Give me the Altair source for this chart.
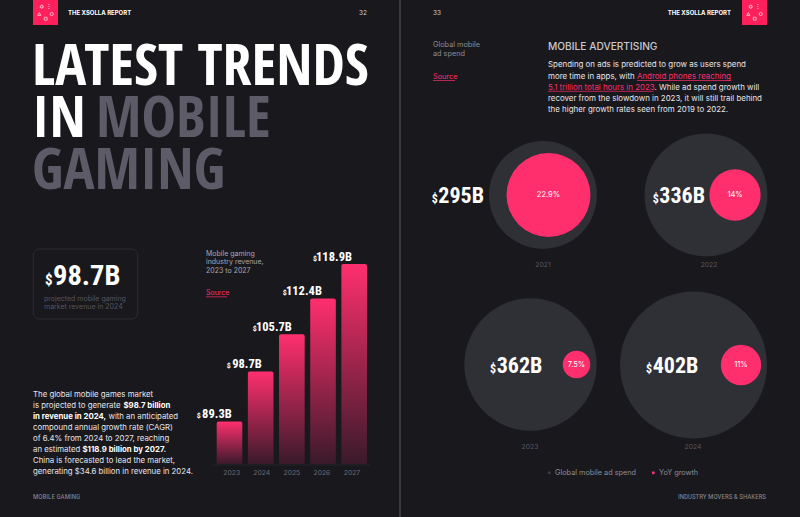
import altair as alt
import pandas as pd

# ---------------- data ----------------
bar_years = ["2023", "2024", "2025", "2026", "2027"]
revenue = [89.3, 98.7, 105.7, 112.4, 118.9]

ad_years = ["2021", "2022", "2023", "2024"]
ad_spend = [295, 336, 362, 402]
yoy_growth = [22.9, 14, 7.5, 11]

# ---------------- layout (pixels) ----------------
outer_cx = [543, 706, 530.5, 693.5]
outer_cy = [195, 195, 364.5, 365]
pink_cx = [548.5, 735, 576.5, 741]
label_x = [438.3, 659.3, 496.7, 652.7]
label_y = [203.3, 203.3, 373.3, 372.7]
year_x = [543, 709, 530, 693]
year_y = [265, 265, 447, 447]

BG = "#19181d"
PINK = "#ff2e6d"
DISC = "#2f2f36"
GREY_T = "#5c5b67"
BODY = "Inter"
COND = "Open Sans Condensed"
NUM = "Roboto Condensed"
BAR_BASE = 81.3  # value at the bar baseline of the designer's scale


def txt(texts, xs, ys, size, color, font=BODY, weight="normal", align="left", baseline="middle"):
    df = pd.DataFrame({"t": texts, "x": xs, "y": ys})
    return alt.Chart(df).mark_text(
        font=font, fontSize=size, fontWeight=weight, color=color, align=align, baseline=baseline
    ).encode(x=alt.X("x:Q", scale=None), y=alt.Y("y:Q", scale=None), text="t:N")


def rect(x, x2, y, y2, color, **kw):
    df = pd.DataFrame({"x": [x], "x2": [x2], "y": [y], "y2": [y2]})
    return alt.Chart(df).mark_rect(color=color, **kw).encode(
        x=alt.X("x:Q", scale=None), x2="x2:Q", y=alt.Y("y:Q", scale=None), y2="y2:Q"
    )


def hline(x, x2, y, color, w=0.8):
    df = pd.DataFrame({"x": [x], "x2": [x2], "y": [y]})
    return alt.Chart(df).mark_rule(color=color, strokeWidth=w).encode(
        x=alt.X("x:Q", scale=None), x2="x2:Q", y=alt.Y("y:Q", scale=None)
    )


layers = []

# page divider
layers.append(alt.Chart(pd.DataFrame({"x": [400]})).mark_rule(color="#47464d", strokeWidth=1.5).encode(
    x=alt.X("x:Q", scale=None), y=alt.value(0), y2=alt.value(517)))

# logos
def logo(x0):
    out = [rect(x0, x0 + 25, 0, 25, "#ff1f5a")]
    pts = pd.DataFrame({
        "x": [x0 + 8.7, x0 + 6.3, x0 + 18.7],
        "y": [6.7, 14, 14],
        "s": ["cross", "triangle-up", "circle"],
    })
    out.append(alt.Chart(pts).mark_point(filled=False, color="white", strokeWidth=0.9, size=10).encode(
        x=alt.X("x:Q", scale=None), y=alt.Y("y:Q", scale=None),
        shape=alt.Shape("s:N", scale=None)))
    out.append(alt.Chart(pd.DataFrame({"x": [x0 + 16.3], "y": [6.7]})).mark_text(
        text="⁝", color="white", fontSize=7, font=BODY).encode(
        x=alt.X("x:Q", scale=None), y=alt.Y("y:Q", scale=None)))
    out.append(alt.Chart(pd.DataFrame({"x": [x0 + 12.7], "y": [18.7]})).mark_point(
        shape="square", filled=False, color="white", strokeWidth=0.9, size=8).encode(
        x=alt.X("x:Q", scale=None), y=alt.Y("y:Q", scale=None)))
    return out

layers += logo(33) + logo(742)

# headers
layers.append(txt(["THE XSOLLA REPORT"], [68], [12.5], 6, "white", weight="bold"))
layers.append(txt(["THE XSOLLA REPORT"], [731], [12.5], 6, "white", weight="bold", align="right"))
layers.append(txt(["32"], [367], [12.5], 6.5, "#cfced4", align="right"))
layers.append(txt(["33"], [433], [12.5], 6.5, "#cfced4"))

# title
layers.append(txt(["LATEST TRENDS", "IN"], [32, 32], [85, 137], 58, "white", font=COND, weight="bold", baseline="alphabetic"))
layers.append(txt(["MOBILE", "GAMING"], [96, 32], [137, 189], 58, GREY_T, font=COND, weight="bold", baseline="alphabetic"))

# $98.7B box
layers.append(alt.Chart(pd.DataFrame({"x": [33.3], "x2": [137.7], "y": [249], "y2": [319]})).mark_rect(
    fill=BG, stroke="#2d2c33", strokeWidth=1, cornerRadius=6).encode(
    x=alt.X("x:Q", scale=None), x2="x2:Q", y=alt.Y("y:Q", scale=None), y2="y2:Q"))
layers.append(txt(["98.7B"], [53], [285], 28.5, "white", font=NUM, weight="bold", baseline="alphabetic"))
layers.append(txt(["$"], [52.5], [285], 15, "white", font=NUM, weight="bold", align="right", baseline="alphabetic"))
layers.append(txt(["projected mobile gaming", "market revenue in 2024"], [44, 44], [299, 306.5], 7, "#56555f"))

# left paragraph
P = "#e6e5ea"
ps = 7.8
layers.append(txt(
    ["The global mobile games market", "is projected to generate", "with an anticipated",
     "compound annual growth rate (CAGR)", "of 6.4% from 2024 to 2027, reaching", "an estimated",
     "China is forecasted to lead the market,", "generating $34.6 billion in revenue in 2024."],
    [33, 33, 108.5, 33, 33, 33, 33, 33],
    [395, 406, 417, 428, 439, 450, 461, 472], ps, P))
layers.append(txt(["$98.7 billion", "in revenue in 2024,", "$118.9 billion by 2027."],
                  [123.5, 33, 82.5], [406, 417, 450], ps, "white", weight="bold"))

# bar chart caption
layers.append(txt(["Mobile gaming", "industry revenue,", "2023 to 2027"], [206, 206, 206], [254, 262.3, 270.5], 7, "#a9a8b0"))
layers.append(txt(["Source"], [206], [293], 7, PINK))
layers.append(hline(206, 227, 296.8, PINK, 0.7))

# bars
bars = pd.DataFrame({"year": bar_years, "rev": revenue})
bars["base"] = BAR_BASE
bars["label"] = [f"{v:.1f}B" for v in revenue]
bars["n"] = bars["label"].str.len()
xs = alt.Scale(domain=bar_years, range=[216.7, 367], paddingInner=0.178, paddingOuter=0)
ys = alt.Scale(domain=[BAR_BASE, 118.9], range=[464, 264], zero=False, nice=False)
grad = alt.Gradient(gradient="linear", x1=0, x2=0, y1=0, y2=1,
                    stops=[alt.GradientStop(color="#ff2f6e", offset=0),
                           alt.GradientStop(color="#3a1a2a", offset=1)])
layers.append(hline(213, 370, 465, "#232228", 1))
layers.append(alt.Chart(bars).mark_bar(color=grad, cornerRadiusTopLeft=2, cornerRadiusTopRight=2).encode(
    x=alt.X("year:N", scale=xs, axis=None), y=alt.Y("rev:Q", scale=ys, axis=None), y2="base:Q"))
layers.append(alt.Chart(bars).mark_text(font=NUM, fontWeight="bold", fontSize=12.5, color="white",
                                        align="right", baseline="alphabetic", dy=-3.5).encode(
    x=alt.X("year:N", scale=xs, axis=None, bandPosition=1), y=alt.Y("rev:Q", scale=ys, axis=None), text="label:N"))
for n, off in [(5, -31), (6, -35)]:
    layers.append(alt.Chart(bars).transform_filter(alt.datum.n == n).mark_text(
        text="$", font=NUM, fontWeight="bold", fontSize=8, color="white",
        align="right", baseline="alphabetic", dy=-3.5, dx=off).encode(
        x=alt.X("year:N", scale=xs, axis=None, bandPosition=1), y=alt.Y("rev:Q", scale=ys, axis=None)))
layers.append(alt.Chart(bars).mark_text(font=BODY, fontSize=6.8, color="#6b6a73").encode(
    x=alt.X("year:N", scale=xs, axis=None), y=alt.value(473), text="year:N"))

# right page text
layers.append(txt(["Global mobile", "ad spend"], [433, 433], [45, 54], 7.3, "#8d8c95"))
layers.append(txt(["Source"], [433], [77.3], 7.3, PINK))
layers.append(hline(433, 455, 80.5, PINK, 0.7))
layers.append(txt(["MOBILE ADVERTISING"], [548], [47.3], 10.2, "#c9c8ce", weight=500))
rs = 7.9
layers.append(txt(
    ["Spending on ads is predicted to grow as users spend", "more time in apps, with",
     ". While ad spend growth will", "recover from the slowdown in 2023, it will still trail behind",
     "the higher growth rates seen from 2019 to 2022."],
    [548, 548, 654.5, 548, 548], [65, 76.7, 87.5, 99, 110], rs, P))
layers.append(txt(["Android phones reaching", "5.1 trillion total hours in 2023"], [637, 548], [76.7, 87.5], rs, PINK))
layers.append(hline(637, 731, 80.5, PINK, 0.7))
layers.append(hline(548, 653.5, 91.3, PINK, 0.7))

# circles
ad = pd.DataFrame({"year": ad_years, "spend": ad_spend, "yoy": yoy_growth,
                   "cx": outer_cx, "cy": outer_cy, "px": pink_cx,
                   "lx": label_x, "ly": label_y, "yx": year_x, "yy": year_y})
ad["slabel"] = [f"{v}B" for v in ad_spend]
ad["plabel"] = [f"{v:g}%" for v in yoy_growth]
layers.append(alt.Chart(ad).mark_circle(color=DISC, opacity=1).encode(
    x=alt.X("cx:Q", scale=None), y=alt.Y("cy:Q", scale=None),
    size=alt.Size("spend:Q", scale=alt.Scale(type="pow", exponent=2, domain=[0, 402], range=[0, 147 * 147]), legend=None)))
layers.append(alt.Chart(ad).mark_circle(color=PINK, opacity=1).encode(
    x=alt.X("px:Q", scale=None), y=alt.Y("cy:Q", scale=None),
    size=alt.Size("yoy:Q", scale=alt.Scale(type="pow", exponent=2, domain=[0, 22.9], range=[0, 84 * 84]), legend=None)))
layers.append(alt.Chart(ad).mark_text(font=BODY, fontSize=7.5, color="white").encode(
    x=alt.X("px:Q", scale=None), y=alt.Y("cy:Q", scale=None), text="plabel:N"))
layers.append(alt.Chart(ad).mark_text(font=NUM, fontWeight="bold", fontSize=22, color="white",
                                      align="left", baseline="alphabetic").encode(
    x=alt.X("lx:Q", scale=None), y=alt.Y("ly:Q", scale=None), text="slabel:N"))
layers.append(alt.Chart(ad).mark_text(text="$", font=NUM, fontWeight="bold", fontSize=12, color="white",
                                      align="right", baseline="alphabetic", dx=-0.5).encode(
    x=alt.X("lx:Q", scale=None), y=alt.Y("ly:Q", scale=None)))
layers.append(alt.Chart(ad).mark_text(font=BODY, fontSize=6.8, color="#58575f").encode(
    x=alt.X("yx:Q", scale=None), y=alt.Y("yy:Q", scale=None), text="year:N"))

# legend
leg = pd.DataFrame({"x": [549.3, 653.3], "y": [472.7, 472.7], "c": ["#3d3c44", PINK]})
layers.append(alt.Chart(leg).mark_circle(opacity=1, size=9).encode(
    x=alt.X("x:Q", scale=None), y=alt.Y("y:Q", scale=None), color=alt.Color("c:N", scale=None)))
layers.append(txt(["Global mobile ad spend", "YoY growth"], [555, 659], [472.7, 472.7], 7.3, "#8e8d96"))

# footers
layers.append(txt(["MOBILE GAMING"], [33], [497], 7, "#8a8992", font=NUM))
layers.append(txt(["INDUSTRY MOVERS & SHAKERS"], [766], [497], 7, "#8a8992", font=NUM, align="right"))

chart = alt.layer(*layers).resolve_scale(
    x="independent", y="independent", size="independent", color="independent", shape="independent"
).properties(width=800, height=517, padding=0, autosize="none", background=BG).configure_view(stroke=None)

chart.save("out.html", embed_options={"renderer": "svg", "actions": False})
